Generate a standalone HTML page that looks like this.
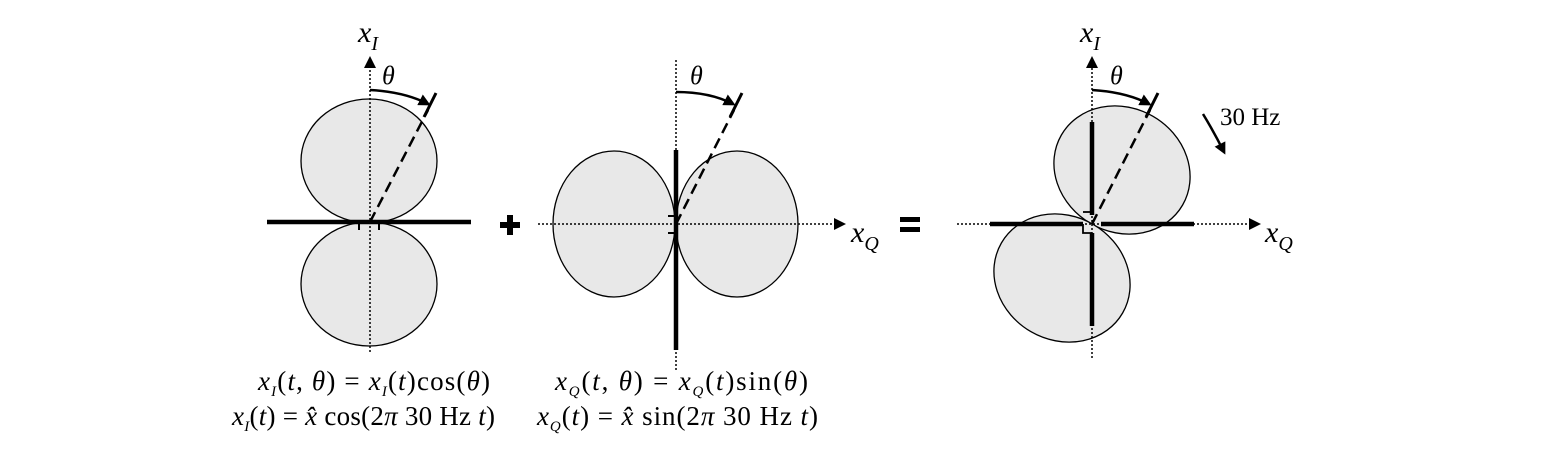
<!DOCTYPE html>
<html><head><meta charset="utf-8"><style>
html,body{margin:0;padding:0;background:#fff;}
svg{display:block}
text{font-family:"Liberation Serif",serif;fill:#000}
</style></head><body>
<svg width="1560" height="460" viewBox="0 0 1560 460" xmlns="http://www.w3.org/2000/svg">
<defs>
<marker id="ah" markerWidth="12" markerHeight="12" refX="9" refY="6" orient="auto" markerUnits="userSpaceOnUse"><path d="M0,0 L12,6 L0,12 z" fill="#000"/></marker>
</defs>
<!-- LEFT -->
<ellipse cx="369" cy="161" rx="68" ry="62" fill="#e8e8e8" stroke="#000" stroke-width="1.3"/>
<ellipse cx="369" cy="284" rx="68" ry="62" fill="#e8e8e8" stroke="#000" stroke-width="1.3"/>
<line x1="370" y1="352" x2="370" y2="66" stroke="#000" stroke-width="1.5" stroke-dasharray="2,2"/>
<path d="M370,56 L364,68 L376,68 z" fill="#000"/>
<line x1="267" y1="222" x2="471" y2="222" stroke="#000" stroke-width="4.5"/>
<line x1="359" y1="222" x2="359" y2="230" stroke="#000" stroke-width="2"/>
<line x1="379" y1="222" x2="379" y2="230" stroke="#000" stroke-width="2"/>
<line x1="370" y1="222" x2="428" y2="110" stroke="#000" stroke-width="2.5" stroke-dasharray="11,6"/>
<line x1="424" y1="117" x2="436" y2="93" stroke="#000" stroke-width="3"/>
<path d="M370,90 Q405,92 428,104" fill="none" stroke="#000" stroke-width="2.5" marker-end="url(#ah)"/>
<text x="358" y="42" font-size="30" font-style="italic">x<tspan font-size="20" dy="8">I</tspan></text>
<text x="382" y="84" font-size="26" font-style="italic">θ</text>
<!-- plus -->
<rect x="500" y="222" width="20" height="6" fill="#000"/>
<rect x="507" y="215" width="6" height="20" fill="#000"/>
<!-- MIDDLE -->
<ellipse cx="614" cy="224" rx="61" ry="73" fill="#e8e8e8" stroke="#000" stroke-width="1.3"/>
<ellipse cx="737" cy="224" rx="61" ry="73" fill="#e8e8e8" stroke="#000" stroke-width="1.3"/>
<line x1="538" y1="224" x2="836" y2="224" stroke="#000" stroke-width="1.5" stroke-dasharray="2,2"/>
<path d="M846,224 L834,218 L834,230 z" fill="#000"/>
<line x1="676" y1="60" x2="676" y2="370" stroke="#000" stroke-width="1.5" stroke-dasharray="2,2"/>
<line x1="676" y1="150" x2="676" y2="350" stroke="#000" stroke-width="4.5"/>
<line x1="668" y1="216" x2="676" y2="216" stroke="#000" stroke-width="2"/>
<line x1="668" y1="233" x2="676" y2="233" stroke="#000" stroke-width="2"/>
<line x1="676" y1="224" x2="734" y2="110" stroke="#000" stroke-width="2.5" stroke-dasharray="11,6"/>
<line x1="730" y1="117" x2="742" y2="93" stroke="#000" stroke-width="3"/>
<path d="M676,92 Q710,92 733,104" fill="none" stroke="#000" stroke-width="2.5" marker-end="url(#ah)"/>
<text x="690" y="84" font-size="26" font-style="italic">θ</text>
<text x="851" y="242" font-size="30" font-style="italic">x<tspan font-size="20" dy="8">Q</tspan></text>
<!-- equals -->
<rect x="900" y="217" width="20" height="5" fill="#000"/>
<rect x="900" y="227" width="20" height="5" fill="#000"/>
<!-- RIGHT -->
<ellipse cx="1122" cy="170" rx="70" ry="62" transform="rotate(30 1122 170)" fill="#e8e8e8" stroke="#000" stroke-width="1.3"/>
<ellipse cx="1062" cy="278" rx="70" ry="62" transform="rotate(30 1062 278)" fill="#e8e8e8" stroke="#000" stroke-width="1.3"/>
<line x1="957" y1="224" x2="1250" y2="224" stroke="#000" stroke-width="1.5" stroke-dasharray="2,2"/>
<path d="M1261,224 L1249,218 L1249,230 z" fill="#000"/>
<line x1="1092" y1="64" x2="1092" y2="360" stroke="#000" stroke-width="1.5" stroke-dasharray="2,2"/>
<path d="M1092,56 L1086,68 L1098,68 z" fill="#000"/>
<line x1="990" y1="224" x2="1083" y2="224" stroke="#000" stroke-width="4.5"/>
<line x1="1101" y1="224" x2="1194" y2="224" stroke="#000" stroke-width="4.5"/>
<line x1="1092" y1="122" x2="1092" y2="215" stroke="#000" stroke-width="4.5"/>
<line x1="1092" y1="233" x2="1092" y2="326" stroke="#000" stroke-width="4.5"/>
<path d="M1083,224 L1083,233 L1092,233" fill="none" stroke="#000" stroke-width="1.8"/>
<path d="M1083,212 L1090,212" fill="none" stroke="#000" stroke-width="1.8"/>
<line x1="1092" y1="224" x2="1150" y2="110" stroke="#000" stroke-width="2.5" stroke-dasharray="11,6"/>
<line x1="1146" y1="117" x2="1158" y2="93" stroke="#000" stroke-width="3"/>
<path d="M1092,90 Q1126,92 1149,104" fill="none" stroke="#000" stroke-width="2.5" marker-end="url(#ah)"/>
<text x="1080" y="42" font-size="30" font-style="italic">x<tspan font-size="20" dy="8">I</tspan></text>
<text x="1110" y="84" font-size="26" font-style="italic">θ</text>
<text x="1265" y="242" font-size="30" font-style="italic">x<tspan font-size="20" dy="8">Q</tspan></text>
<text x="1220" y="125" font-size="25">30 Hz</text>
<path d="M1203,114 Q1214,132 1224,152" fill="none" stroke="#000" stroke-width="2.5" marker-end="url(#ah)"/>
<!-- formulas -->
<text x="258" y="390" font-size="27" textLength="232" lengthAdjust="spacing"><tspan font-style="italic">x</tspan><tspan font-size="15" font-style="italic" dy="6">I</tspan><tspan dy="-6">(</tspan><tspan font-style="italic">t</tspan>, <tspan font-style="italic">θ</tspan>) = <tspan font-style="italic">x</tspan><tspan font-size="15" font-style="italic" dy="6">I</tspan><tspan dy="-6">(</tspan><tspan font-style="italic">t</tspan>)cos(<tspan font-style="italic">θ</tspan>)</text>
<text x="232" y="425" font-size="27" textLength="263" lengthAdjust="spacing"><tspan font-style="italic">x</tspan><tspan font-size="15" font-style="italic" dy="6">I</tspan><tspan dy="-6">(</tspan><tspan font-style="italic">t</tspan>) = <tspan font-style="italic">x̂</tspan> cos(2<tspan font-style="italic">π</tspan> 30 Hz <tspan font-style="italic">t</tspan>)</text>
<text x="555" y="390" font-size="27" textLength="253" lengthAdjust="spacing"><tspan font-style="italic">x</tspan><tspan font-size="15" font-style="italic" dy="6">Q</tspan><tspan dy="-6">(</tspan><tspan font-style="italic">t</tspan>, <tspan font-style="italic">θ</tspan>) = <tspan font-style="italic">x</tspan><tspan font-size="15" font-style="italic" dy="6">Q</tspan><tspan dy="-6">(</tspan><tspan font-style="italic">t</tspan>)sin(<tspan font-style="italic">θ</tspan>)</text>
<text x="537" y="425" font-size="27" textLength="281" lengthAdjust="spacing"><tspan font-style="italic">x</tspan><tspan font-size="15" font-style="italic" dy="6">Q</tspan><tspan dy="-6">(</tspan><tspan font-style="italic">t</tspan>) = <tspan font-style="italic">x̂</tspan> sin(2<tspan font-style="italic">π</tspan> 30 Hz <tspan font-style="italic">t</tspan>)</text>
</svg>
</body></html>
